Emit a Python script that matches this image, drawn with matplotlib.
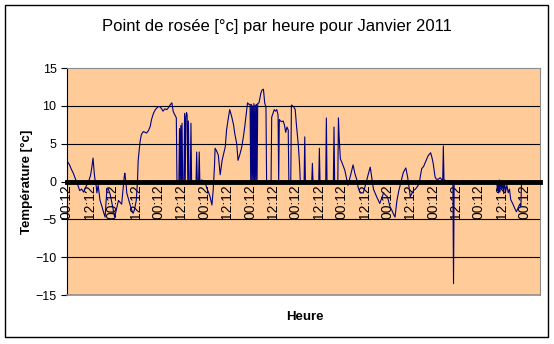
# Point de rosée par heure - Janvier 2011
import numpy as np
import matplotlib
matplotlib.use('Agg')
import matplotlib.pyplot as plt
from matplotlib.patches import Rectangle

plt.rcParams['font.family'] = ['Liberation Sans', 'DejaVu Sans']

# DONNEES (heure depuis le 1er janvier 00:12, point de rosée en °c)
heures = [1, 4, 7, 10, 13, 16, 20, 23, 26, 29, 31, 34, 37, 39, 41, 43, 44, 46, 47, 49,
          52, 55, 58, 60, 62, 63, 65, 68, 71, 73, 75, 78, 81, 84, 86, 88, 90, 91, 93, 94,
          97, 99, 102, 104, 106, 109, 111, 112, 114, 115, 117, 120, 123, 125, 128, 131, 133, 136, 139, 141,
          144, 146, 149, 151, 154, 157, 160, 162, 165, 167, 169, 171, 172, 173, 176, 177, 178, 179, 180, 181,
          182, 184, 185, 186, 187, 188, 189, 190, 191, 192, 194, 195, 196, 203, 204, 205, 207, 208, 209, 212,
          217, 220, 223, 225, 228, 230, 232, 233, 235, 238, 241, 244, 246, 249, 251, 254, 256, 259, 262, 264,
          267, 269, 272, 275, 278, 280, 282, 284, 286, 288, 289, 290, 291, 292, 293, 294, 295, 296, 297, 298,
          299, 300, 302, 305, 307, 309, 311, 313, 314, 321, 322, 324, 326, 328, 330, 332, 333, 334, 336, 338,
          340, 342, 344, 346, 348, 349, 352, 353, 355, 357, 359, 361, 364, 366, 367, 373, 374, 375, 385, 386,
          387, 396, 397, 398, 407, 408, 409, 419, 420, 421, 426, 427, 428, 430, 433, 437, 442, 446, 450, 453,
          456, 458, 461, 466, 471, 474, 477, 480, 482, 487, 492, 495, 498, 501, 504, 508, 511, 513, 516, 519,
          522, 524, 527, 529, 533, 536, 538, 540, 543, 545, 548, 550, 554, 556, 558, 561, 563, 566, 568, 572,
          574, 576, 578, 579, 581, 584, 587, 590, 591, 592, 593, 598, 602, 607, 608, 609, 676, 677, 678, 679,
          680, 681, 682, 684, 685, 687, 688, 690, 692, 694, 696, 698, 701, 704, 707, 710, 712, 714, 715, 743]
rosee = [2.6, 2.2, 1.6, 1.1, 0.4, -0.2, -1.2, -1.0, -1.4, -0.8, -0.5, 0.0, 0.8, 1.8, 3.1, 1.0, 0.3, -0.6, -1.5, -0.5,
         -2.5, -3.3, -4.2, -4.7, -2.0, -0.9, -1.0, -1.7, -3.0, -3.8, -4.7, -3.6, -2.5, -2.8, -3.0, -1.2, 0.6, 1.1, -0.3, -1.5,
         -2.4, -3.0, -3.8, -4.2, -3.8, -2.5, 0.2, 2.8, 4.4, 5.3, 6.2, 6.6, 6.5, 6.4, 6.7, 7.3, 8.2, 9.0, 9.5, 9.7,
         9.9, 9.9, 9.6, 9.3, 9.6, 9.5, 9.8, 10.1, 10.4, 9.3, 8.9, 8.6, 8.4, 0.0, 0.0, 7.0, 0.0, 7.4, 0.0, 7.7,
         0.0, 0.0, 9.0, 0.0, 8.5, 9.1, 8.8, 0.0, 8.0, 0.0, 0.0, 7.7, 0.0, 0.0, 3.9, 0.0, 0.0, 3.9, 0.0, 0.2,
         0.0, -0.9, -1.5, -2.0, -3.1, -1.1, 2.0, 4.4, 4.1, 3.5, 0.9, 2.8, 3.5, 4.6, 6.8, 8.5, 9.5, 8.6, 7.5, 6.3,
         5.0, 2.8, 3.6, 4.6, 6.2, 7.5, 9.0, 10.4, 10.2, 10.2, 0.0, 10.2, 0.0, 10.0, 0.0, 10.3, 0.0, 10.1, 0.0, 10.2,
         0.0, 10.3, 10.4, 11.7, 12.1, 12.2, 10.4, 9.8, 0.0, 0.0, 8.5, 9.0, 9.5, 9.3, 9.5, 8.8, 0.0, 8.2, 8.0, 7.9,
         8.0, 7.5, 6.5, 7.2, 6.8, 0.0, 0.0, 10.1, 10.0, 9.8, 9.5, 7.4, 4.7, 2.0, 0.0, 0.0, 5.9, 0.0, 0.0, 2.4,
         0.0, 0.0, 4.4, 0.0, 0.0, 8.4, 0.0, 0.0, 7.2, 0.0, 0.0, 8.4, 6.0, 3.0, 2.4, 1.5, -0.5, 0.8, 2.2, 1.0,
         0.2, -0.8, -1.5, -1.5, 0.0, 1.0, 1.9, 0.2, -1.0, -2.0, -2.9, -2.2, -1.5, -1.8, -2.0, -3.3, -3.8, -4.2, -4.7, -2.5,
         -1.2, -0.5, 0.6, 1.2, 1.8, 0.5, -0.8, -2.0, -1.5, -1.2, -1.0, -0.8, -0.3, 0.8, 1.7, 2.0, 2.4, 3.0, 3.4, 3.8,
         3.2, 2.4, 1.2, 0.6, 0.3, 0.3, 0.5, 0.2, 0.2, 4.7, 0.2, 0.1, 0.1, 0.0, -13.5, 0.0, 0.0, -1.2, 0.0, -1.5,
         0.2, -1.4, 0.0, -1.0, 0.1, -1.6, 0.0, -1.3, -0.5, -1.5, -1.0, -2.4, -2.9, -3.5, -4.0, -3.4, -3.0, -3.3, 0.0, 0.0]

# etiquettes de l'axe des heures (une toutes les 36 heures)
pos_etiquettes = list(range(0, 721, 36))
etiquettes = ['00:12', '12:12'] * 10 + ['00:12']

y_ticks = [-15, -10, -5, 0, 5, 10, 15]
grille = [-10, -5, 5, 10]

# GRAPHIQUE
fig = plt.figure(figsize=(5.54, 3.44), dpi=100)
ax = fig.add_axes([0.1209, 0.1424, 0.8538, 0.6599])
ax.set_facecolor('#FFCC99')

for g in grille:
    ax.axhline(g, color='black', lw=0.8, zorder=1)

ax.plot(heures, rosee, color='#000080', lw=0.8, zorder=2)

ax.set_xlim(0, 744)
ax.set_ylim(-15, 15)
ax.set_yticks(y_ticks)
ax.set_xticks(pos_etiquettes)
ax.set_xticklabels(etiquettes, fontsize=8.5, color='#222222')
ax.tick_params(axis='x', length=0, pad=2, labelrotation=90)
ax.tick_params(axis='y', direction='out', length=4, labelsize=9, colors='black')

# axe des catégories à zéro, épais
ax.spines['bottom'].set_position(('data', 0))
ax.spines['bottom'].set_linewidth(3.5)
ax.spines['bottom'].set_color('black')
ax.spines['bottom'].set_zorder(3)
ax.spines['left'].set_color('black')
ax.spines['top'].set_color('#8c8c8c')
ax.spines['right'].set_color('#8c8c8c')
ax.axhline(-15, color='#8c8c8c', lw=1.2, clip_on=False, zorder=3)

fig.text(0.5, 1 - 27 / 344, 'Point de rosée [°c] par heure pour Janvier 2011',
         ha='center', va='center', fontsize=12)
fig.text(27 / 554, 1 - 181.5 / 344, 'Température [°c]', rotation=90,
         ha='center', va='center', fontsize=9.5, fontweight='bold')
fig.text(305 / 554, 1 - 317 / 344, 'Heure', ha='center', va='center',
         fontsize=9.5, fontweight='bold')

# cadre du graphique
fig.patches.append(Rectangle((5 / 554, 1 - 337 / 344), 543 / 554, 332 / 344,
                             transform=fig.transFigure, fill=False, ec='black', lw=1))

fig.savefig('out.png', dpi=100)
